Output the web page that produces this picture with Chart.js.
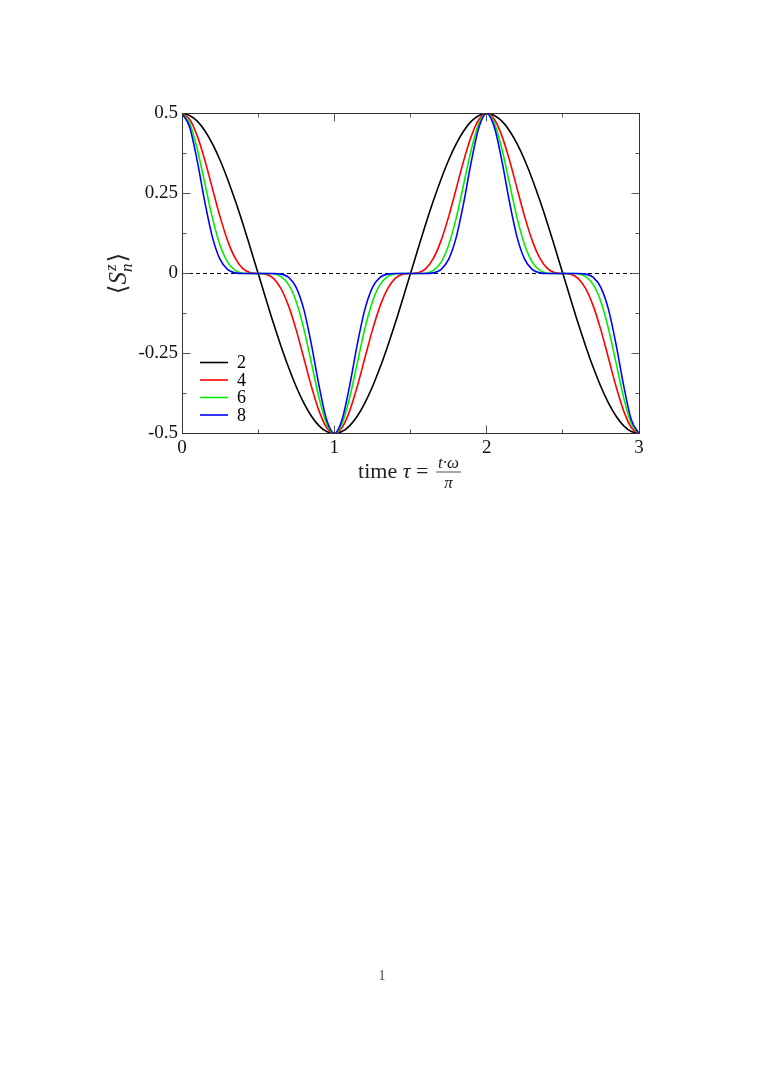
<!DOCTYPE html>
<html>
<head>
<meta charset="utf-8">
<script src="https://cdn.jsdelivr.net/npm/chart.js@4.4.1/dist/chart.umd.min.js"></script>
<style>
  html, body { margin: 0; padding: 0; background: #ffffff; }
  #wrap { width: 763px; height: 1078px; position: relative; }
  canvas { display: block; }
</style>
</head>
<body>
<div id="wrap"><canvas id="c" width="763" height="1078"></canvas></div>
<script>
// ---- data ----
const tau = [0,0.05,0.1,0.15,0.2,0.25,0.3,0.35,0.4,0.45,0.5,0.55,0.6,0.65,0.7,0.75,0.8,0.85,0.9,0.95,
  1,1.05,1.1,1.15,1.2,1.25,1.3,1.35,1.4,1.45,1.5,1.55,1.6,1.65,1.7,1.75,1.8,1.85,1.9,1.95,
  2,2.05,2.1,2.15,2.2,2.25,2.3,2.35,2.4,2.45,2.5,2.55,2.6,2.65,2.7,2.75,2.8,2.85,2.9,2.95,3];

const sz2 = [0.5,0.494,0.476,0.446,0.405,0.354,0.294,0.227,0.155,0.078,0,-0.078,-0.155,-0.227,-0.294,-0.354,-0.405,-0.446,-0.476,-0.494,
  -0.5,-0.494,-0.476,-0.446,-0.405,-0.354,-0.294,-0.227,-0.155,-0.078,0,0.078,0.155,0.227,0.294,0.354,0.405,0.446,0.476,0.494,
  0.5,0.494,0.476,0.446,0.405,0.354,0.294,0.227,0.155,0.078,0,-0.078,-0.155,-0.227,-0.294,-0.354,-0.405,-0.446,-0.476,-0.494,-0.5];

const sz4 = [0.5,0.482,0.430,0.354,0.265,0.177,0.102,0.047,0.015,0.002,0,-0.002,-0.015,-0.047,-0.102,-0.177,-0.265,-0.354,-0.430,-0.482,
  -0.5,-0.482,-0.430,-0.354,-0.265,-0.177,-0.102,-0.047,-0.015,-0.002,0,0.002,0.015,0.047,0.102,0.177,0.265,0.354,0.430,0.482,
  0.5,0.482,0.430,0.354,0.265,0.177,0.102,0.047,0.015,0.002,0,-0.002,-0.015,-0.047,-0.102,-0.177,-0.265,-0.354,-0.430,-0.482,-0.5];

const sz6 = [0.5,0.470,0.389,0.281,0.173,0.088,0.035,0.010,0.001,0,0,0,-0.001,-0.010,-0.035,-0.088,-0.173,-0.281,-0.389,-0.470,
  -0.5,-0.470,-0.389,-0.281,-0.173,-0.088,-0.035,-0.010,-0.001,0,0,0,0.001,0.010,0.035,0.088,0.173,0.281,0.389,0.470,
  0.5,0.470,0.389,0.281,0.173,0.088,0.035,0.010,0.001,0,0,0,-0.001,-0.010,-0.035,-0.088,-0.173,-0.281,-0.389,-0.470,-0.5];

const sz8 = [0.5,0.458,0.352,0.223,0.113,0.044,0.012,0.002,0,0,0,0,0,-0.002,-0.012,-0.044,-0.113,-0.223,-0.352,-0.458,
  -0.5,-0.458,-0.352,-0.223,-0.113,-0.044,-0.012,-0.002,0,0,0,0,0,0.002,0.012,0.044,0.113,0.223,0.352,0.458,
  0.5,0.458,0.352,0.223,0.113,0.044,0.012,0.002,0,0,0,0,0,-0.002,-0.012,-0.044,-0.113,-0.223,-0.352,-0.458,-0.5];

const seriesNames = ["2", "4", "6", "8"];
const xTickValues = [0, 1, 2, 3];
const xTickLabels = ["0", "1", "2", "3"];
const xMinorValues = [0.5, 1.5, 2.5];
const yTickValues = [-0.5, -0.25, 0, 0.25, 0.5];
const yTickLabels = ["-0.5", "-0.25", "0", "0.25", "0.5"];
const yMinorValues = [-0.375, -0.125, 0.125, 0.375];
const zeroLine = [0, 0];
const zeroLineX = [0, 3];

// ---- build ----
const pts = (ys) => ys.map((y, i) => ({ x: tau[i], y: y }));
const colors = ["#000000", "#ff0000", "#00ee00", "#0000ff"];
const seriesData = [sz2, sz4, sz6, sz8];

const datasets = seriesData.map((ys, k) => ({
  label: seriesNames[k],
  data: pts(ys),
  borderColor: colors[k],
  borderWidth: 1.6,
  pointRadius: 0,
  fill: false,
  cubicInterpolationMode: 'monotone',
  order: 4 - k,
  isSeries: true
}));
datasets.push({
  label: 'zero',
  data: zeroLineX.map((x, i) => ({ x: x, y: zeroLine[i] })),
  borderColor: '#000000',
  borderWidth: 1,
  borderDash: [4, 3],
  pointRadius: 0,
  fill: false,
  order: 10,
  isSeries: false
});

const SERIF = '"Liberation Serif", "Times New Roman", serif';

const decor = {
  id: 'decor',
  afterDatasetsDraw(chart) {
    const ctx = chart.ctx;
    const a = chart.chartArea;
    const xs = chart.scales.x, ys = chart.scales.y;
    ctx.save();
    const tick = (x1, y1, x2, y2) => { ctx.beginPath(); ctx.moveTo(x1, y1); ctx.lineTo(x2, y2); ctx.stroke(); };
    const L = Math.floor(a.left) + 0.5, R = Math.floor(a.right) + 0.5;
    const T = Math.floor(a.top) + 0.5, B = Math.floor(a.bottom) + 0.5;
    // ticks (inward) on all four sides
    ctx.strokeStyle = '#555555';
    ctx.lineWidth = 1;
    const MAJ = 8, MIN = 4;
    xTickValues.forEach(v => { const p = Math.floor(xs.getPixelForValue(v)) + 0.5;
      tick(p, B, p, B - MAJ); tick(p, T, p, T + MAJ); });
    xMinorValues.forEach(v => { const p = Math.floor(xs.getPixelForValue(v)) + 0.5;
      tick(p, B, p, B - MIN); tick(p, T, p, T + MIN); });
    yTickValues.forEach(v => { const p = Math.floor(ys.getPixelForValue(v)) + 0.5;
      tick(L, p, L + MAJ, p); tick(R, p, R - MAJ, p); });
    yMinorValues.forEach(v => { const p = Math.floor(ys.getPixelForValue(v)) + 0.5;
      tick(L, p, L + MIN, p); tick(R, p, R - MIN, p); });
    // frame
    ctx.strokeStyle = '#333333';
    ctx.lineWidth = 1;
    ctx.strokeRect(L, T, R - L, B - T);

    // legend inside the plot, lower left
    const lx0 = a.left + 18, lx1 = a.left + 46, tx = a.left + 55;
    let ly = a.bottom - 71;
    ctx.font = '18px ' + SERIF;
    ctx.textBaseline = 'middle';
    ctx.textAlign = 'left';
    chart.data.datasets.filter(d => d.isSeries).forEach(d => {
      ctx.strokeStyle = d.borderColor;
      ctx.lineWidth = 1.6;
      tick(lx0, ly, lx1, ly);
      ctx.fillStyle = '#000000';
      ctx.fillText(d.label, tx, ly + 1);
      ly += 17.5;
    });

    // x-axis title: time τ = t·ω / π
    const cx = (a.left + a.right) / 2;
    const base = a.bottom + 44;
    ctx.fillStyle = '#222222';
    ctx.textBaseline = 'alphabetic';
    ctx.font = '22px ' + SERIF;
    const wTime = ctx.measureText('time ').width;
    ctx.font = 'italic 22px ' + SERIF;
    const wTau = ctx.measureText('τ').width;
    ctx.font = '22px ' + SERIF;
    const wEq = ctx.measureText(' = ').width;
    ctx.font = 'italic 17px ' + SERIF;
    const wNum = ctx.measureText('t·ω').width + 8;
    const total = wTime + wTau + wEq + wNum;
    let x = cx - total / 2;
    ctx.textAlign = 'left';
    ctx.font = '22px ' + SERIF; ctx.fillText('time ', x, base); x += wTime;
    ctx.font = 'italic 22px ' + SERIF; ctx.fillText('τ', x, base); x += wTau;
    ctx.font = '22px ' + SERIF; ctx.fillText(' = ', x, base); x += wEq;
    const fc = x + wNum / 2;
    ctx.textAlign = 'center';
    ctx.font = 'italic 17px ' + SERIF;
    ctx.fillText('t·ω', fc, base - 10);
    ctx.fillText('π', fc, base + 10);
    ctx.strokeStyle = '#222222';
    ctx.lineWidth = 0.8;
    tick(x + 2, base - 5.5, x + wNum - 2, base - 5.5);

    // y-axis title: ⟨S^z_n⟩ rotated
    ctx.save();
    const cy = (a.top + a.bottom) / 2;
    ctx.translate(a.left - 56, cy);
    ctx.rotate(-Math.PI / 2);
    ctx.textAlign = 'left';
    ctx.textBaseline = 'alphabetic';
    ctx.font = '25px "DejaVu Serif", ' + SERIF;
    const wL = ctx.measureText('⟨').width;
    ctx.font = 'italic 25px ' + SERIF;
    const wS = ctx.measureText('S').width;
    ctx.font = 'italic 17px ' + SERIF;
    const wSub = Math.max(ctx.measureText('z').width, ctx.measureText('n').width) + 1;
    ctx.font = '25px "DejaVu Serif", ' + SERIF;
    const wR = ctx.measureText('⟩').width;
    const tot = wL + wS + wSub + wR;
    let tx2 = -tot / 2;
    ctx.fillStyle = '#222222';
    ctx.font = '25px "DejaVu Serif", ' + SERIF; ctx.fillText('⟨', tx2, 0); tx2 += wL;
    ctx.font = 'italic 25px ' + SERIF; ctx.fillText('S', tx2, 0); tx2 += wS;
    ctx.font = 'italic 17px ' + SERIF;
    ctx.fillText('z', tx2 + 1, -10);
    ctx.fillText('n', tx2, 6);
    tx2 += wSub;
    ctx.font = '25px "DejaVu Serif", ' + SERIF; ctx.fillText('⟩', tx2, 0);
    ctx.restore();

    // page number
    ctx.fillStyle = '#444444';
    ctx.font = '14px ' + SERIF;
    ctx.textAlign = 'center';
    ctx.textBaseline = 'middle';
    ctx.fillText('1', 382, 976);
    ctx.restore();
  }
};

new Chart(document.getElementById('c'), {
  type: 'line',
  data: { datasets: datasets },
  options: {
    responsive: false,
    animation: false,
    devicePixelRatio: 1,
    layout: { padding: { left: 0, top: 113.5, right: 124, bottom: 614.5 } },
    plugins: {
      legend: { display: false },
      tooltip: { enabled: false },
      title: { display: false }
    },
    scales: {
      x: {
        type: 'linear',
        min: 0, max: 3,
        afterBuildTicks: (s) => { s.ticks = xTickValues.map(v => ({ value: v })); },
        afterFit: (s) => { s.height = 30; },
        grid: { display: false, drawTicks: false },
        border: { display: false },
        ticks: {
          padding: 3,
          color: '#111111',
          font: { family: SERIF, size: 19 },
          maxRotation: 0,
          callback: (v) => { const i = xTickValues.indexOf(v); return i >= 0 ? xTickLabels[i] : ''; }
        }
      },
      y: {
        type: 'linear',
        min: -0.5, max: 0.5,
        afterBuildTicks: (s) => { s.ticks = yTickValues.map(v => ({ value: v })); },
        afterFit: (s) => { s.width = 182; },
        grid: { display: false, drawTicks: false },
        border: { display: false },
        ticks: {
          padding: 4,
          color: '#111111',
          font: { family: SERIF, size: 19 },
          callback: (v) => { const i = yTickValues.indexOf(v); return i >= 0 ? yTickLabels[i] : ''; }
        }
      }
    }
  },
  plugins: [decor]
});
</script>
</body>
</html>
